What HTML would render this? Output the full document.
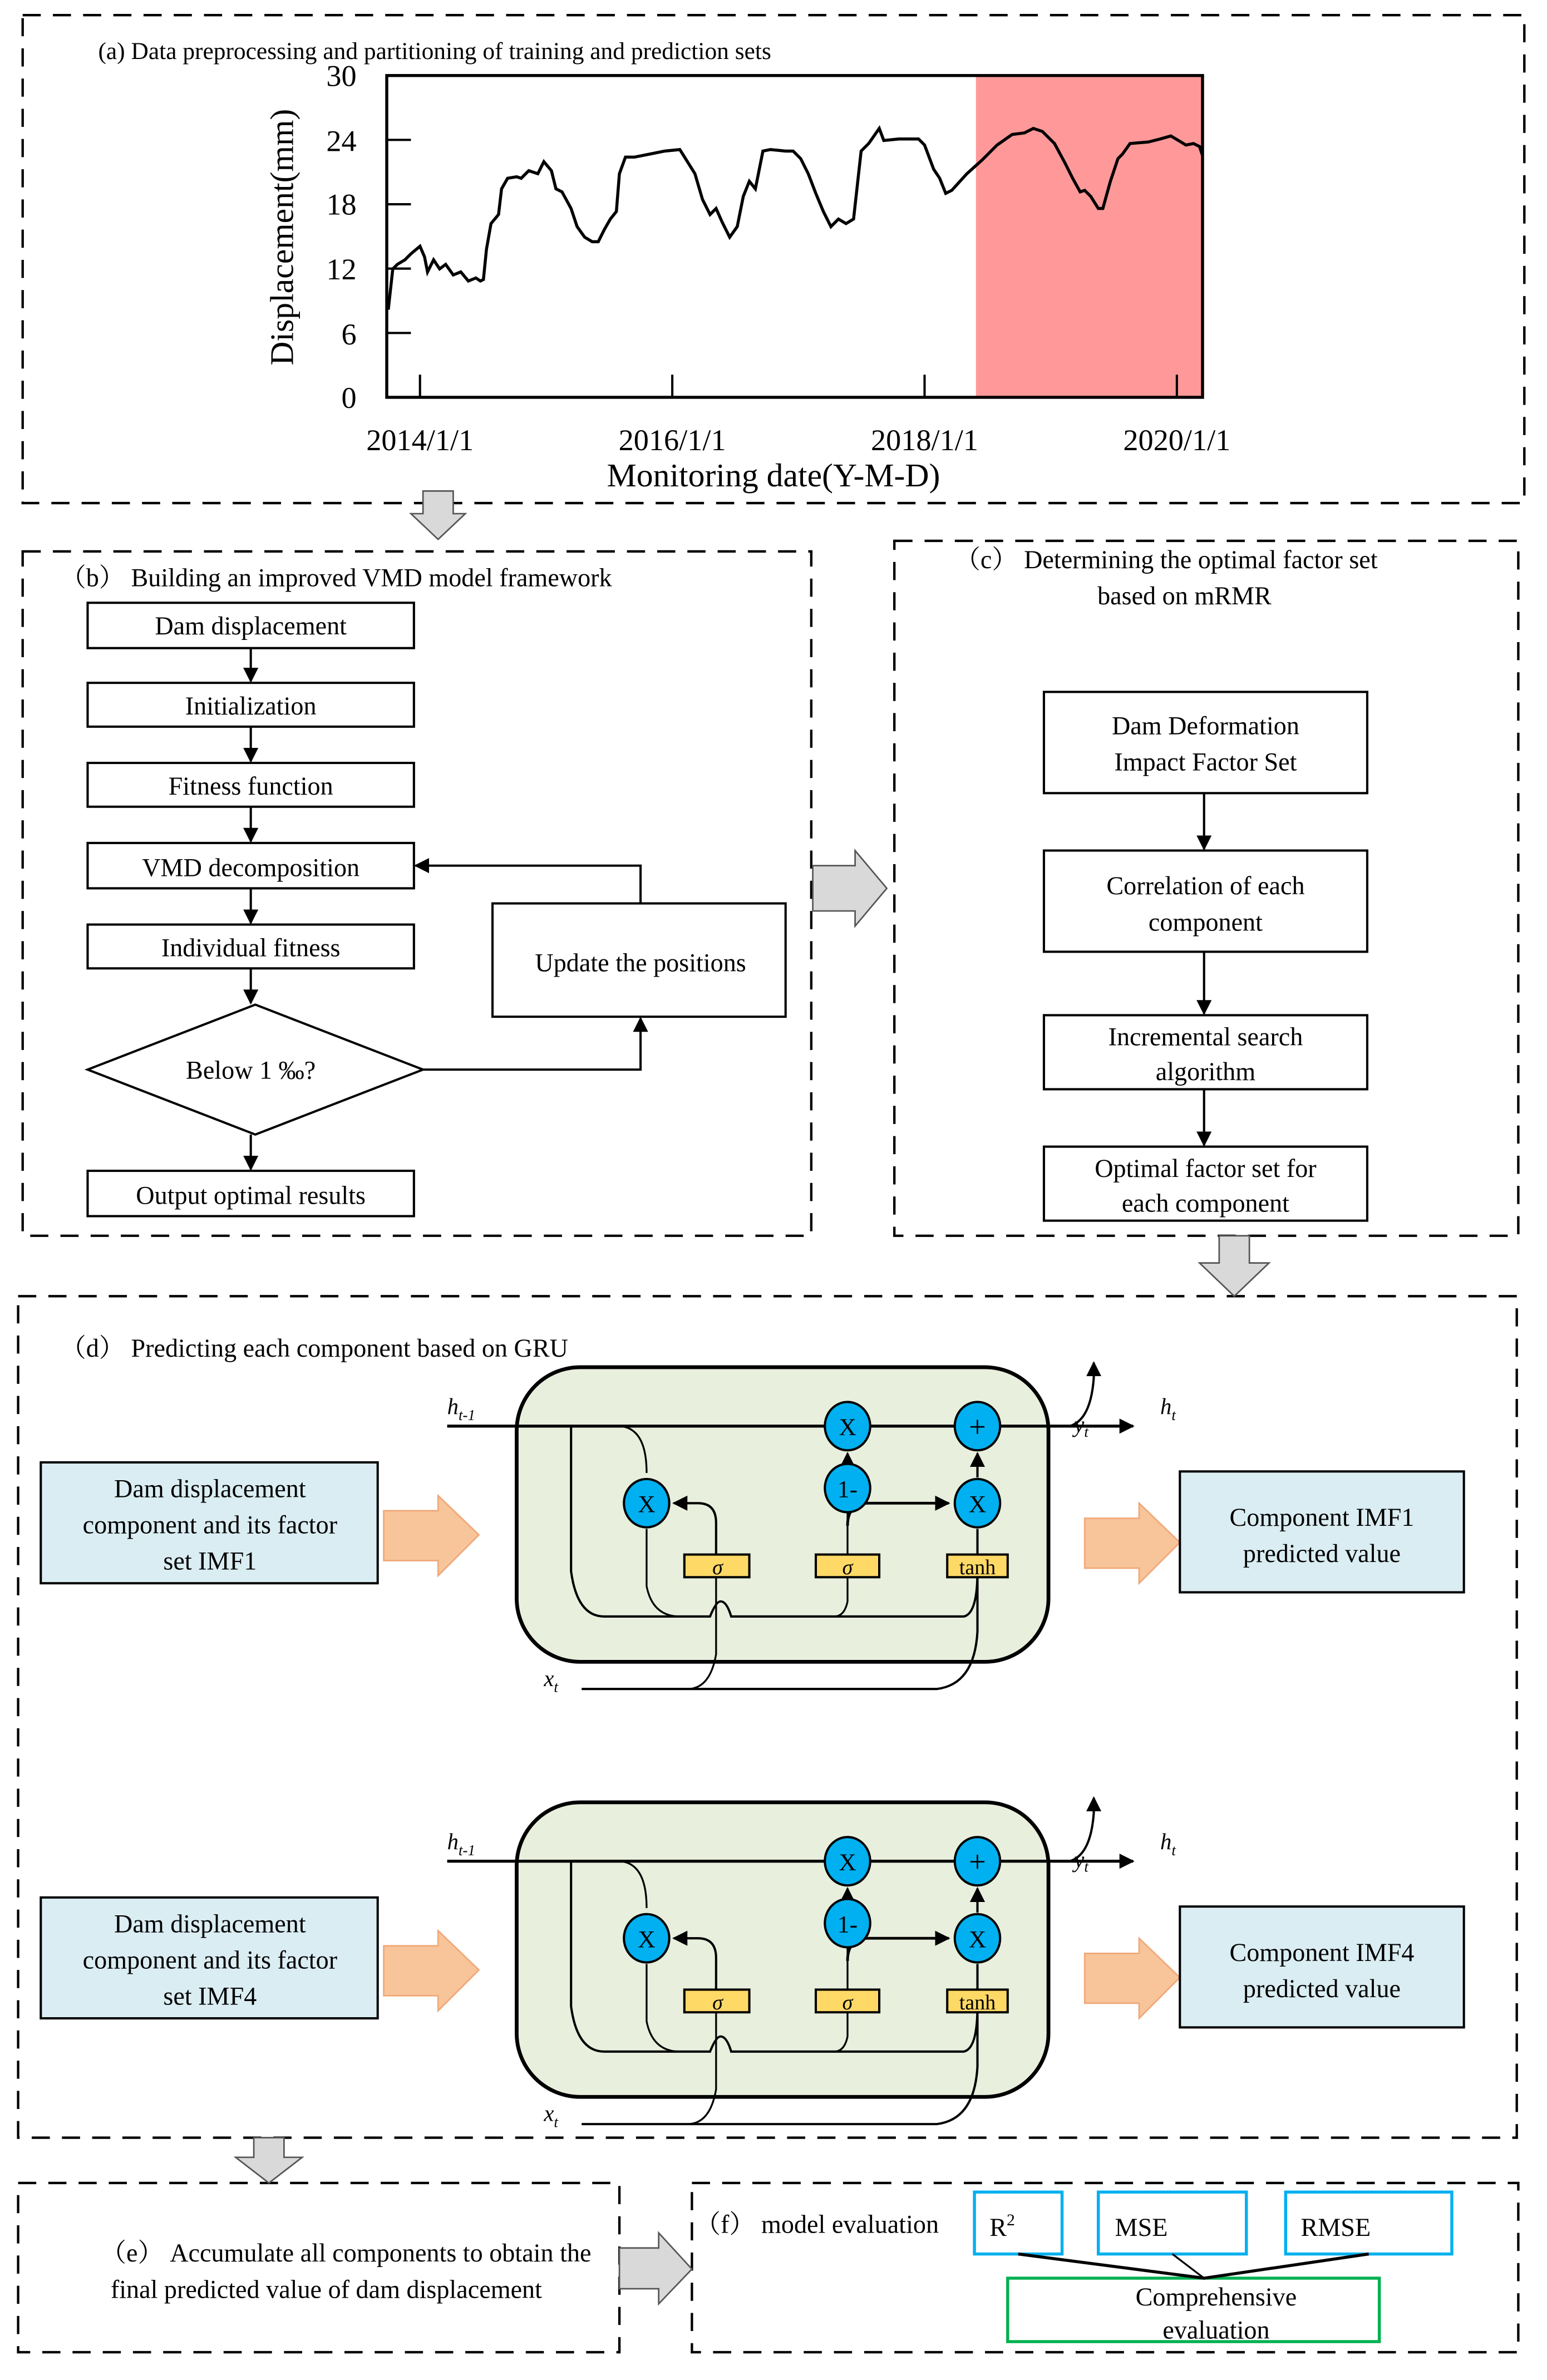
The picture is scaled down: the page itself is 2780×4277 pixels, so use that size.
<!DOCTYPE html>
<html><head><meta charset="utf-8"><style>
html,body{margin:0;padding:0;background:#fff;}
svg{display:block;}
text{font-family:"Liberation Serif","Noto Serif CJK SC",serif;fill:#000;}
</style></head><body>
<svg width="2780" height="4277" viewBox="0 0 1024 1575.4" preserveAspectRatio="none" xmlns="http://www.w3.org/2000/svg">
<defs>
<marker id="ah" markerWidth="10" markerHeight="10" refX="9" refY="5" orient="auto" markerUnits="userSpaceOnUse"><path d="M0,0 L10,5 L0,10 z" fill="#000"/></marker>
<g id="gru">
 <rect x="342" y="905" width="352" height="195" rx="42" fill="#e9efdd" stroke="#000" stroke-width="2.5"/>
 <text x="296" y="936" font-size="15" font-style="italic">h<tspan font-size="10" dy="4">t</tspan><tspan font-size="10">-1</tspan></text>
 <line x1="296" y1="944" x2="750" y2="944" stroke="#000" stroke-width="2" marker-end="url(#ah)"/>
 <path d="M708,944 Q722,940 724,912 L724,902" fill="none" stroke="#000" stroke-width="1.5" marker-end="url(#ah)"/>
 <text x="711" y="948" font-size="15" font-style="italic">y<tspan font-size="10" dy="3">t</tspan></text>
 <text x="768" y="936" font-size="15" font-style="italic">h<tspan font-size="10" dy="4">t</tspan></text>
 <path d="M378,944 L378,1040 Q382,1070 400,1070 L470,1070 Q474,1060 477,1060 Q481,1060 484,1070 L638,1070 Q647,1068 647,1040" fill="none" stroke="#000" stroke-width="1.5"/>
 <path d="M411,944 Q428,946 428,975" fill="none" stroke="#000" stroke-width="1.2"/>
 <path d="M428,1012 L428,1050 Q432,1070 450,1070" fill="none" stroke="#000" stroke-width="1.2"/>
 <path d="M561,1044 L561,1060 Q559,1070 552,1070" fill="none" stroke="#000" stroke-width="1.2"/>
 <path d="M474,1029 L474,1008 Q474,995 462,995 L446,995" fill="none" stroke="#000" stroke-width="1.5" marker-end="url(#ah)"/>
 <path d="M474,1044 L474,1095 Q470,1118 455,1118" fill="none" stroke="#000" stroke-width="1.2"/>
 <path d="M385,1118 L620,1118 Q645,1115 647,1080 L647,1012" fill="none" stroke="#000" stroke-width="1.5"/>
 <path d="M561,1029 L561,1000" fill="none" stroke="#000" stroke-width="1.2"/>
 <path d="M561,1010 Q561,995 575,995 L628,995" fill="none" stroke="#000" stroke-width="1.8" marker-end="url(#ah)"/>
 <line x1="561" y1="970" x2="561" y2="962" stroke="#000" stroke-width="1.5" marker-end="url(#ah)"/>
 <line x1="647" y1="978" x2="647" y2="962" stroke="#000" stroke-width="1.5" marker-end="url(#ah)"/>
 <g stroke="#000" stroke-width="1.5" fill="#00b0f0">
  <ellipse cx="561" cy="944" rx="15" ry="16"/><ellipse cx="647" cy="944" rx="15" ry="16"/>
  <ellipse cx="428" cy="995" rx="15" ry="16"/><ellipse cx="561" cy="985" rx="15" ry="16"/>
  <ellipse cx="647" cy="995" rx="15" ry="16"/>
 </g>
 <g font-size="16" text-anchor="middle">
  <text x="561" y="950">X</text><text x="647" y="951" font-size="20">+</text>
  <text x="428" y="1001">X</text><text x="561" y="991">1-</text><text x="647" y="1001">X</text>
 </g>
 <g fill="#ffd966" stroke="#000" stroke-width="1.5">
  <rect x="453" y="1029" width="43" height="15"/><rect x="540" y="1029" width="42" height="15"/><rect x="627" y="1029" width="40" height="15"/>
 </g>
 <text x="475" y="1042" font-size="14" font-style="italic" text-anchor="middle">σ</text>
 <text x="561" y="1042" font-size="14" font-style="italic" text-anchor="middle">σ</text>
 <text x="647" y="1042" font-size="14" text-anchor="middle">tanh</text>
 <text x="360" y="1116" font-size="15" font-style="italic">x<tspan font-size="10" dy="4">t</tspan></text>
 <polygon points="254,1000 290,1000 290,990 317,1016 290,1043 290,1033 254,1033" fill="#f8c49a" stroke="#f0a878" stroke-width="1"/>
 <polygon points="718,1005 754,1005 754,995 781,1021 754,1048 754,1038 718,1038" fill="#f8c49a" stroke="#f0a878" stroke-width="1"/>
</g>
</defs>
<rect width="1024" height="1575.4" fill="#fff"/>
<g fill="none" stroke="#000" stroke-width="1.6" stroke-dasharray="12,8">
 <rect x="15" y="10" width="994" height="323"/>
 <rect x="15" y="365" width="522" height="453"/>
 <rect x="592" y="358" width="413" height="460"/>
 <rect x="12" y="858" width="992" height="557"/>
 <rect x="12" y="1445" width="398" height="112"/>
 <rect x="458" y="1445" width="547" height="112"/>
</g>
<!-- (a) -->
<text x="65" y="39" font-size="16">(a) Data preprocessing and partitioning of training and prediction sets</text>
<rect x="646" y="50" width="150" height="213" fill="#ff9999"/>
<rect x="256" y="50" width="540" height="213" fill="none" stroke="#000" stroke-width="2"/>
<g stroke="#000" stroke-width="1.5">
 <line x1="256" y1="92.6" x2="272" y2="92.6"/><line x1="256" y1="135.2" x2="272" y2="135.2"/><line x1="256" y1="177.8" x2="272" y2="177.8"/><line x1="256" y1="220.4" x2="272" y2="220.4"/>
 <line x1="278" y1="263" x2="278" y2="248"/><line x1="445" y1="263" x2="445" y2="248"/><line x1="612" y1="263" x2="612" y2="248"/><line x1="779" y1="263" x2="779" y2="248"/>
</g>
<g font-size="20" text-anchor="end">
 <text x="236" y="57">30</text><text x="236" y="100">24</text><text x="236" y="142">18</text><text x="236" y="185">12</text><text x="236" y="228">6</text><text x="236" y="270">0</text>
</g>
<g font-size="20" text-anchor="middle">
 <text x="278" y="298">2014/1/1</text><text x="445" y="298">2016/1/1</text><text x="612" y="298">2018/1/1</text><text x="779" y="298">2020/1/1</text>
</g>
<text x="512" y="322" font-size="22" text-anchor="middle">Monitoring date(Y-M-D)</text>
<text transform="translate(194,157) rotate(-90)" font-size="22" text-anchor="middle">Displacement(mm)</text>
<polyline fill="none" stroke="#000" stroke-width="2" points="257,205 260,178 263,175 268,172 272,168 278,163 281,170 283,180 287,172 291,178 295,175 300,182 305,180 310,186 315,184 318,186 320,185 322,165 325,148 330,142 332,125 336,118 342,117 345,118 350,113 356,115 360,107 365,113 368,125 372,127 378,138 382,150 387,157 392,160 396,160 400,152 404,145 408,140 410,115 414,104 420,104 430,102 440,100 450,99 455,107 460,115 465,132 470,142 474,138 478,147 483,157 488,150 492,130 496,120 500,125 505,100 510,99 520,100 525,100 530,105 535,115 540,128 545,140 550,150 555,145 560,148 565,145 570,100 575,95 582,85 585,93 595,92 608,92 612,96 618,112 622,118 626,128 630,126 640,115 650,106 660,96 670,89 678,88 684,85 690,87 698,95 705,108 710,118 715,127 718,126 722,130 727,138 730,138 735,120 740,105 743,102 748,95 760,94 768,92 775,90 780,93 785,96 790,95 794,97 796,103"/>
<!-- gray arrows -->
<g fill="#d9d9d9" stroke="#555" stroke-width="1">
 <polygon points="280,325 300,325 300,340 308,340 290,357 272,340 280,340"/>
 <polygon points="538,573 566,573 566,563 587,588 566,613 566,603 538,603"/>
 <polygon points="807,818 827,818 827,836 840,836 817,858 794,836 807,836"/>
 <polygon points="168,1415 188,1415 188,1428 200,1428 178,1445 156,1428 168,1428"/>
 <polygon points="410,1488 436,1488 436,1478 458,1502 436,1525 436,1515 410,1515"/>
</g>
<!-- (b) -->
<text x="40" y="388" font-size="17">（b） Building an improved VMD model framework</text>
<g fill="#fff" stroke="#000" stroke-width="1.5">
 <rect x="58" y="399" width="216" height="30"/><rect x="58" y="452" width="216" height="29"/><rect x="58" y="505" width="216" height="29"/>
 <rect x="58" y="558" width="216" height="30"/><rect x="58" y="612" width="216" height="29"/><rect x="58" y="775" width="216" height="30"/>
 <rect x="326" y="598" width="194" height="75"/>
 <polygon points="169,665 280,708 169,751 58,708"/>
</g>
<g font-size="17" text-anchor="middle">
 <text x="166" y="420">Dam displacement</text><text x="166" y="473">Initialization</text><text x="166" y="526">Fitness function</text>
 <text x="166" y="580">VMD decomposition</text><text x="166" y="633">Individual fitness</text><text x="166" y="714">Below 1 ‰?</text>
 <text x="166" y="797">Output optimal results</text><text x="424" y="643">Update the positions</text>
</g>
<g stroke="#000" stroke-width="1.5" fill="none" marker-end="url(#ah)">
 <line x1="166" y1="429" x2="166" y2="451"/><line x1="166" y1="481" x2="166" y2="504"/><line x1="166" y1="534" x2="166" y2="557"/>
 <line x1="166" y1="588" x2="166" y2="611"/><line x1="166" y1="641" x2="166" y2="664"/><line x1="166" y1="751" x2="166" y2="774"/>
 <polyline points="280,708 424,708 424,674"/><polyline points="424,598 424,573 275,573"/>
</g>
<!-- (c) -->
<text x="632" y="376" font-size="17">（c） Determining the optimal factor set</text>
<text x="784" y="400" font-size="17" text-anchor="middle">based on mRMR</text>
<g fill="#fff" stroke="#000" stroke-width="1.5">
 <rect x="691" y="458" width="214" height="67"/><rect x="691" y="563" width="214" height="67"/>
 <rect x="691" y="672" width="214" height="49"/><rect x="691" y="759" width="214" height="49"/>
</g>
<g font-size="17" text-anchor="middle">
 <text x="798" y="486">Dam Deformation</text><text x="798" y="510">Impact Factor Set</text>
 <text x="798" y="592">Correlation of each</text><text x="798" y="616">component</text>
 <text x="798" y="692">Incremental search</text><text x="798" y="715">algorithm</text>
 <text x="798" y="779">Optimal factor set for</text><text x="798" y="802">each component</text>
</g>
<g stroke="#000" stroke-width="1.5" marker-end="url(#ah)">
 <line x1="797" y1="525" x2="797" y2="562"/><line x1="797" y1="630" x2="797" y2="671"/><line x1="797" y1="721" x2="797" y2="758"/>
</g>
<!-- (d) -->
<text x="40" y="898" font-size="17">（d） Predicting each component based on GRU</text>
<use href="#gru"/>
<use href="#gru" transform="translate(0,288)"/>
<g fill="#daedf3" stroke="#000" stroke-width="1.5">
 <rect x="27" y="968" width="223" height="80"/><rect x="781" y="974" width="188" height="80"/>
 <rect x="27" y="1256" width="223" height="80"/><rect x="781" y="1262" width="188" height="80"/>
</g>
<g font-size="17" text-anchor="middle">
 <text x="139" y="991">Dam displacement</text><text x="139" y="1015">component and its factor</text><text x="139" y="1039">set IMF1</text>
 <text x="875" y="1010">Component IMF1</text><text x="875" y="1034">predicted value</text>
 <text x="139" y="1279">Dam displacement</text><text x="139" y="1303">component and its factor</text><text x="139" y="1327">set IMF4</text>
 <text x="875" y="1298">Component IMF4</text><text x="875" y="1322">predicted value</text>
</g>
<!-- (e) -->
<g font-size="17" text-anchor="middle">
 <text x="229" y="1497">（e） Accumulate all components to obtain the</text>
 <text x="216" y="1521">final predicted value of dam displacement</text>
</g>
<!-- (f) -->
<text x="460" y="1478" font-size="17">（f） model evaluation</text>
<g fill="#fff" stroke="#00b0f0" stroke-width="2">
 <rect x="645" y="1451" width="58" height="41"/><rect x="727" y="1451" width="98" height="41"/><rect x="851" y="1451" width="110" height="41"/>
</g>
<rect x="667" y="1508" width="246" height="42" fill="#fff" stroke="#00b050" stroke-width="2"/>
<g stroke="#000" stroke-width="2" fill="none">
 <polyline points="674,1492 797,1508 906,1492"/><line x1="776" y1="1492" x2="797" y2="1508" stroke-width="1.2"/>
</g>
<g font-size="17">
 <text x="655" y="1480">R<tspan font-size="11" dy="-7">2</tspan></text>
 <text x="738" y="1480">MSE</text><text x="861" y="1480">RMSE</text>
</g>
<g font-size="17" text-anchor="middle"><text x="805" y="1526">Comprehensive</text><text x="805" y="1548">evaluation</text></g>
</svg>
</body></html>
